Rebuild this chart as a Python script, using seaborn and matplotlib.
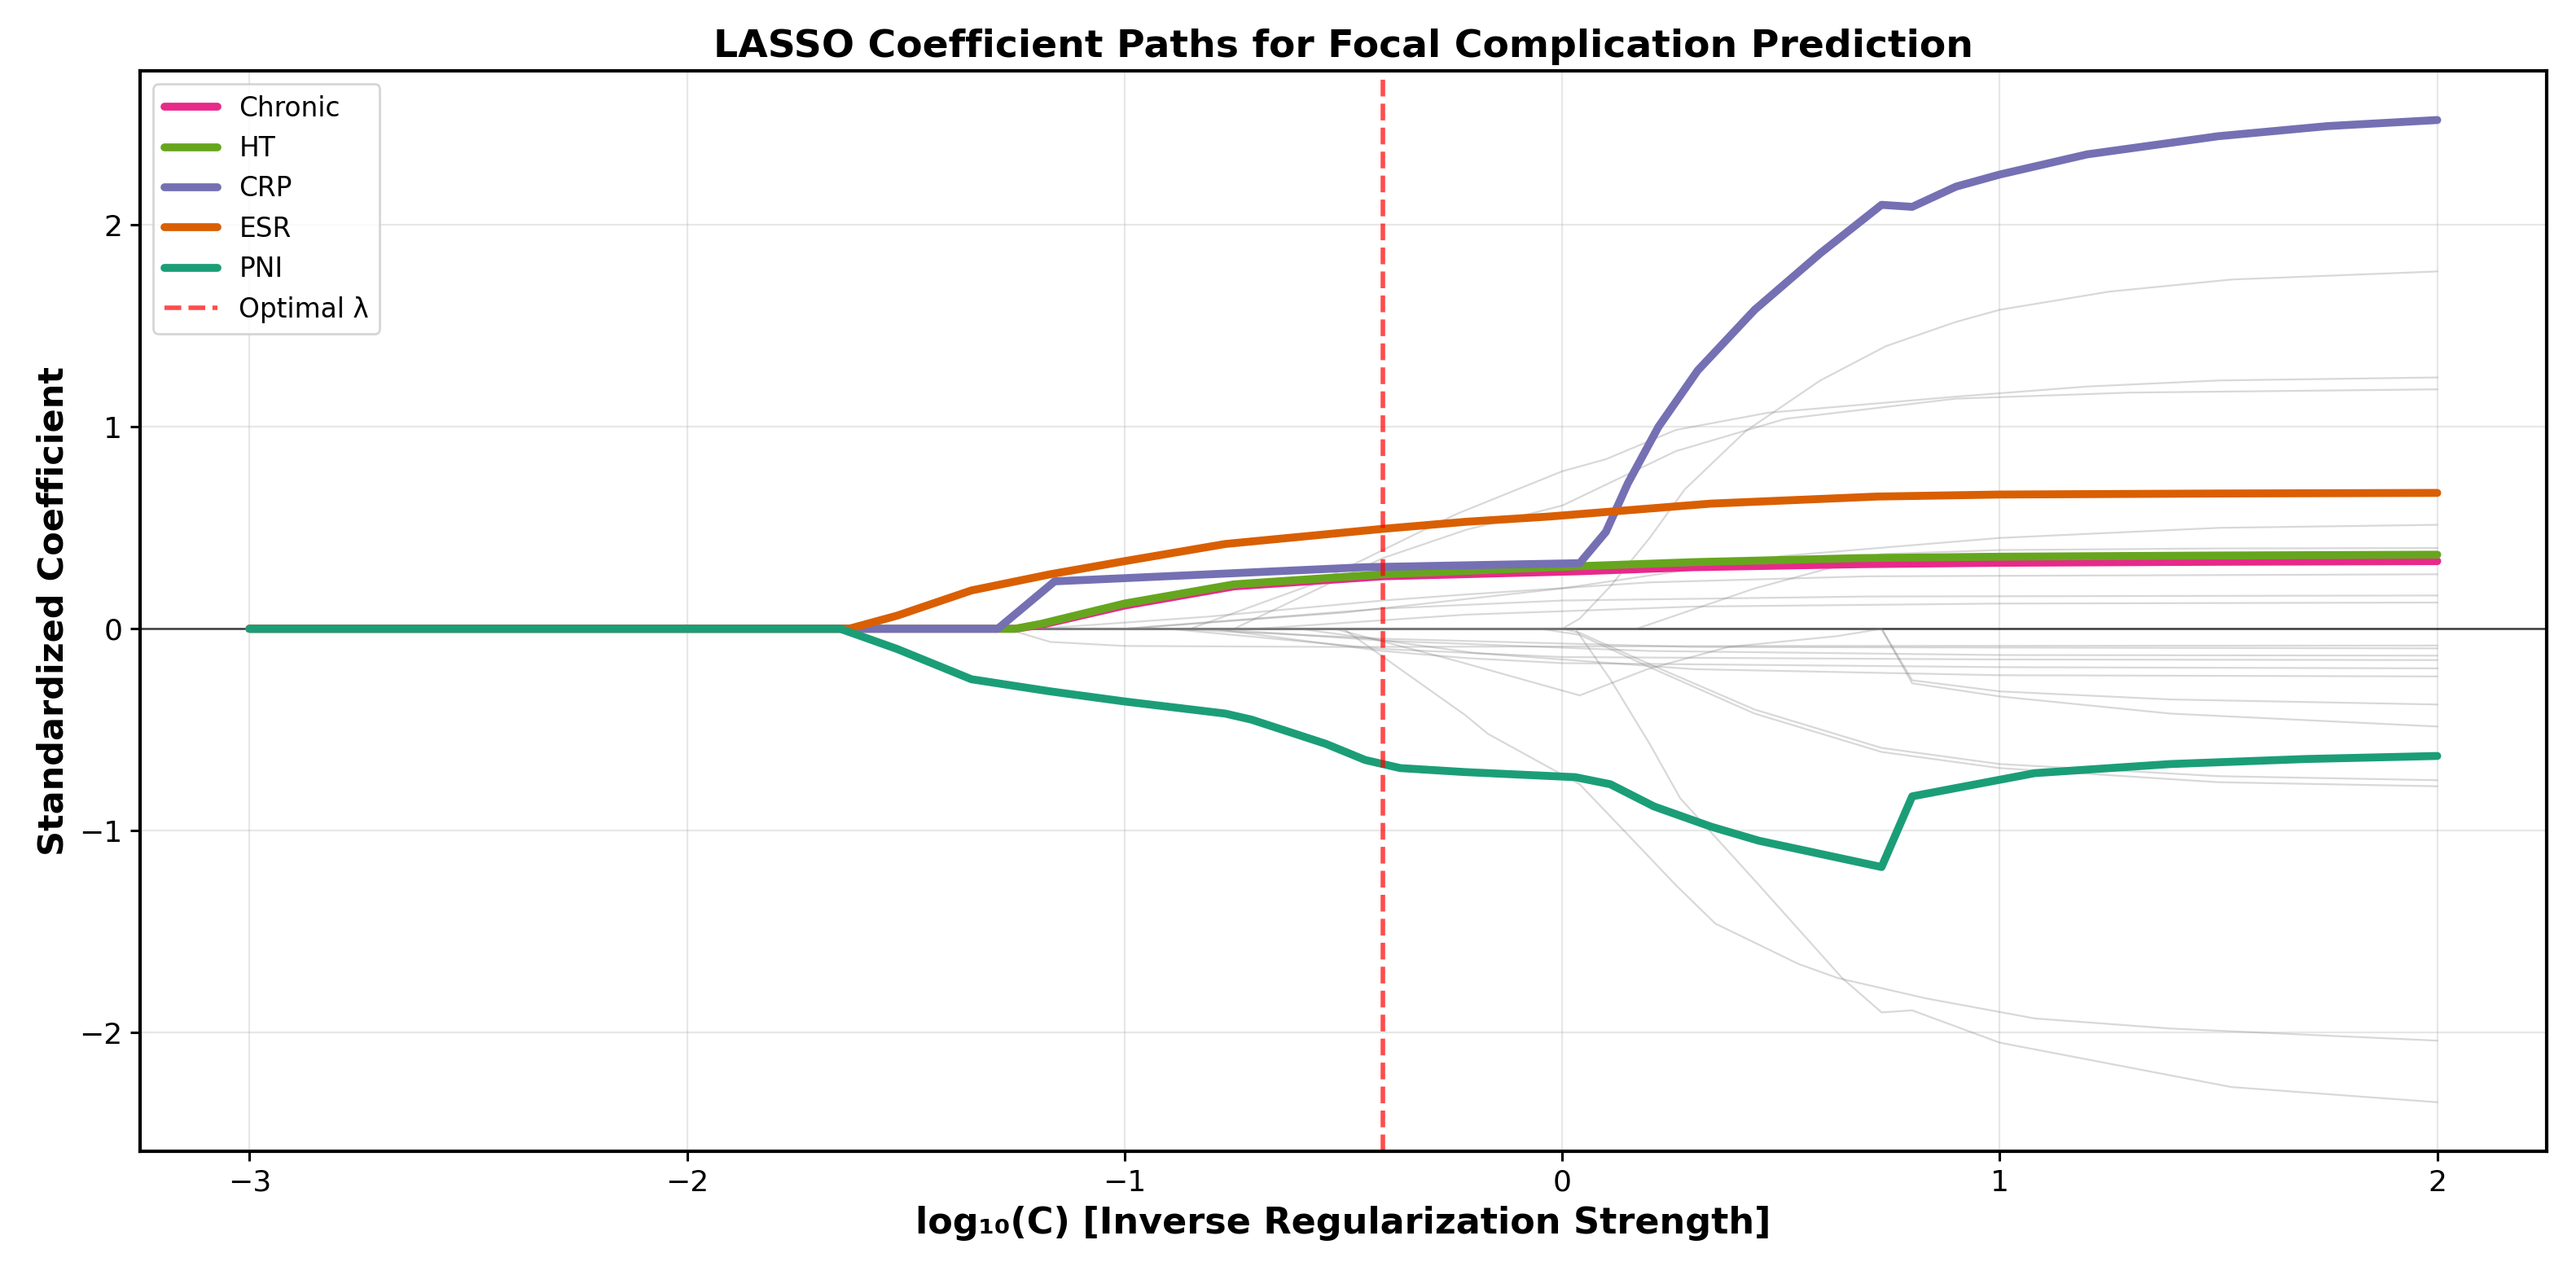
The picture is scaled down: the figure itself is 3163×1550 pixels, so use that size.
import numpy as np
import pandas as pd
import matplotlib
matplotlib.use("Agg")
import matplotlib.pyplot as plt
import seaborn as sns

# highlighted features (log10(C), coefficient)
chronic_x = [-3, -1.25, -1.19, -1.0, -0.75, -0.41, 0.04, 0.3, 0.68, 1.0, 1.5, 2.0]
chronic_y = [0, 0, 0.02, 0.115, 0.21, 0.26, 0.285, 0.305, 0.32, 0.327, 0.332, 0.335]

ht_x = [-3, -1.25, -1.19, -1.0, -0.75, -0.41, 0.04, 0.3, 0.68, 1.0, 1.5, 2.0]
ht_y = [0, 0, 0.025, 0.125, 0.22, 0.27, 0.31, 0.33, 0.35, 0.357, 0.363, 0.367]

crp_x = [-3, -1.29, -1.16, -0.45, 0.04, 0.10, 0.15, 0.22, 0.31, 0.44, 0.59, 0.73, 0.80, 0.90, 1.0, 1.2, 1.5, 1.75, 2.0]
crp_y = [0, 0, 0.235, 0.305, 0.325, 0.48, 0.72, 1.0, 1.28, 1.58, 1.86, 2.10, 2.09, 2.19, 2.25, 2.35, 2.44, 2.49, 2.52]

esr_x = [-3, -1.63, -1.52, -1.35, -1.17, -1.0, -0.77, -0.41, -0.22, -0.03, 0.34, 0.72, 1.0, 1.5, 2.0]
esr_y = [0, 0, 0.065, 0.19, 0.27, 0.335, 0.42, 0.495, 0.53, 0.556, 0.62, 0.655, 0.665, 0.670, 0.673]

pni_x = [-3, -1.65, -1.52, -1.35, -1.17, -1.0, -0.77, -0.71, -0.54, -0.45, -0.37, -0.22, 0.03, 0.11, 0.21, 0.34, 0.45, 0.73, 0.80, 1.08, 1.39, 1.7, 2.0]
pni_y = [0, 0, -0.10, -0.25, -0.31, -0.36, -0.42, -0.45, -0.57, -0.65, -0.69, -0.71, -0.735, -0.77, -0.88, -0.98, -1.05, -1.18, -0.83, -0.715, -0.67, -0.645, -0.63]

# the remaining (grey) features
feat_01 = ([-3, 0.0, 0.04, 0.11, 0.2, 0.28, 0.42, 0.59, 0.74, 0.9, 1.0, 1.25, 1.53, 2.0],
           [0, 0, 0.05, 0.21, 0.45, 0.69, 0.98, 1.23, 1.40, 1.52, 1.58, 1.67, 1.73, 1.77])
feat_02 = ([-3, -0.85, -0.57, -0.24, 0.0, 0.10, 0.26, 0.47, 0.9, 1.2, 1.5, 2.0],
           [0, 0, 0.22, 0.57, 0.78, 0.84, 0.985, 1.07, 1.15, 1.2, 1.23, 1.245])
feat_03 = ([-3, -0.75, -0.41, -0.22, 0.0, 0.26, 0.51, 0.9, 1.3, 2.0],
           [0, 0, 0.35, 0.49, 0.61, 0.88, 1.04, 1.14, 1.17, 1.186])
feat_04 = ([-3, -1.0, -0.5, 0.0, 0.5, 1.0, 1.5, 2.0],
           [0, 0, 0.08, 0.2, 0.36, 0.45, 0.5, 0.515])
feat_05 = ([-3, 0.17, 0.44, 0.73, 1.0, 1.5, 2.0],
           [0, 0, 0.2, 0.37, 0.39, 0.398, 0.40])
feat_06 = ([-3, -1.2, -0.81, -0.41, -0.22, 0.2, 0.7, 2.0],
           [0, 0, 0.06, 0.14, 0.17, 0.23, 0.26, 0.27])
feat_07 = ([-3, -1.0, -0.41, 0.0, 0.7, 2.0],
           [0, 0, 0.10, 0.14, 0.16, 0.165])
feat_08 = ([-3, -0.7, -0.22, 0.3, 1.0, 2.0],
           [0, 0, 0.07, 0.11, 0.125, 0.13])
feat_09 = ([-3, -1.27, -1.17, -1.0, -0.5, 0.5, 2.0],
           [0, 0, -0.065, -0.085, -0.09, -0.085, -0.083])
feat_10 = ([-3, -0.9, -0.4, 0.3, 2.0],
           [0, 0, -0.05, -0.09, -0.097])
feat_11 = ([-3, -0.8, -0.4, 0.2, 1.0, 2.0],
           [0, 0, -0.06, -0.11, -0.13, -0.133])
feat_12 = ([-3, -0.9, -0.41, 0.0, 1.0, 2.0],
           [0, 0, -0.10, -0.14, -0.152, -0.155])
feat_13 = ([-3, -0.8, -0.41, -0.22, 0.0, 1.0, 2.0],
           [0, 0, -0.11, -0.145, -0.17, -0.19, -0.196])
feat_14 = ([-3, -0.6, -0.2, 0.3, 1.0, 2.0],
           [0, 0, -0.12, -0.2, -0.23, -0.236])
feat_15 = ([-3, -0.52, -0.24, 0.04, 0.195, 0.38, 0.63, 0.73, 0.80, 1.0, 1.39, 2.0],
           [0, 0, -0.16, -0.33, -0.2, -0.09, -0.036, 0.0, -0.255, -0.31, -0.35, -0.375])
feat_16 = ([-3, 0.73, 0.80, 1.0, 1.39, 2.0],
           [0, 0, -0.27, -0.335, -0.42, -0.484])
feat_17 = ([-3, 0.0, 0.04, 0.21, 0.44, 0.73, 1.0, 1.5, 2.0],
           [0, 0, -0.02, -0.185, -0.40, -0.59, -0.67, -0.73, -0.75])
feat_18 = ([-3, -0.05, 0.04, 0.21, 0.44, 0.73, 1.0, 1.5, 2.0],
           [0, 0, -0.03, -0.2, -0.42, -0.61, -0.69, -0.76, -0.78])
feat_19 = ([-3, -0.5, -0.22, -0.17, 0.04, 0.126, 0.26, 0.35, 0.54, 0.63, 0.83, 1.08, 1.39, 2.0],
           [0, 0, -0.43, -0.52, -0.77, -0.965, -1.27, -1.46, -1.66, -1.73, -1.83, -1.93, -1.98, -2.04])
feat_20 = ([-3, 0.03, 0.11, 0.2, 0.27, 0.45, 0.64, 0.73, 0.80, 1.0, 1.53, 2.0],
           [0, 0, -0.25, -0.57, -0.84, -1.27, -1.73, -1.90, -1.89, -2.05, -2.27, -2.345])

optimal_log_c = -0.41

others = [feat_01, feat_02, feat_03, feat_04, feat_05, feat_06, feat_07, feat_08, feat_09, feat_10,
          feat_11, feat_12, feat_13, feat_14, feat_15, feat_16, feat_17, feat_18, feat_19, feat_20]
rows = []
for i, (xs, ys) in enumerate(others):
    for xv, yv in zip(xs, ys):
        rows.append({"log_c": xv, "coef": yv, "feature": i})
grey_df = pd.DataFrame(rows)

sns.set_style("ticks")
plt.rcParams["font.family"] = ["DejaVu Sans"]
plt.rcParams["text.color"] = "black"
plt.rcParams["axes.labelcolor"] = "black"
plt.rcParams["xtick.color"] = "black"
plt.rcParams["ytick.color"] = "black"

fig = plt.figure(figsize=(3163 / 200, 1550 / 200), dpi=200)
ax = fig.add_axes([0.0544, 0.0877, 0.9342, 0.8561])

ax.grid(True, alpha=0.3, color="#b0b0b0", linewidth=0.8)
ax.axhline(0, color="black", linewidth=0.9, alpha=0.75)

sns.lineplot(data=grey_df, x="log_c", y="coef", units="feature", estimator=None,
             color="grey", alpha=0.3, linewidth=0.8, legend=False, ax=ax)

highlight = [
    ("Chronic", chronic_x, chronic_y, "#e7298a"),
    ("HT", ht_x, ht_y, "#66a61e"),
    ("CRP", crp_x, crp_y, "#7570b3"),
    ("ESR", esr_x, esr_y, "#d95f02"),
    ("PNI", pni_x, pni_y, "#1b9e77"),
]
for name, xs, ys, col in highlight:
    sns.lineplot(x=xs, y=ys, color=col, linewidth=3.5, label=name, ax=ax)

ax.axvline(optimal_log_c, color="red", linestyle="--", linewidth=2, alpha=0.7, label="Optimal λ")

ax.set_xlabel("log₁₀(C) [Inverse Regularization Strength]", fontsize=16, fontweight="bold")
ax.set_ylabel("Standardized Coefficient", fontsize=15.5, fontweight="bold")
ax.set_title("LASSO Coefficient Paths for Focal Complication Prediction", fontsize=17, fontweight="bold")
ax.tick_params(labelsize=13, length=4.3, width=1.1)
ax.set_xticks([-3, -2, -1, 0, 1, 2])
ax.set_yticks([-2, -1, 0, 1, 2])

for sp in ax.spines.values():
    sp.set_visible(True)
    sp.set_color("black")
    sp.set_linewidth(1.5)

ax.legend(loc="upper left", fontsize=11.8, frameon=True)

fig.savefig("out.png", dpi=200)
